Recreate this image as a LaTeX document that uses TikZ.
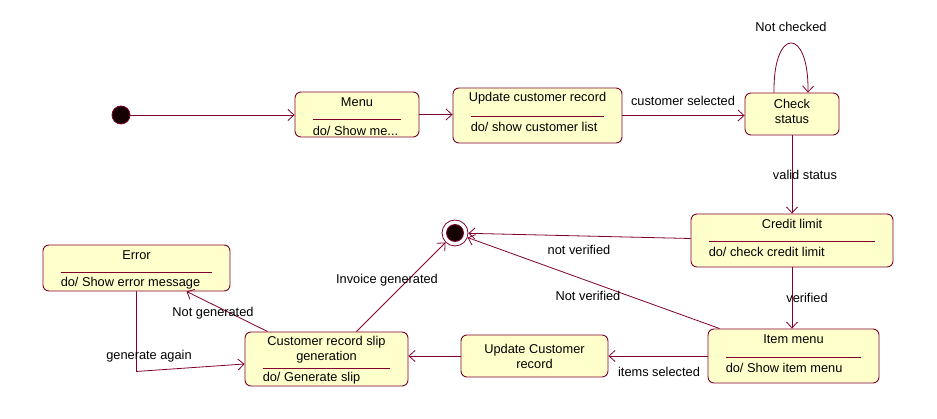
\documentclass[tikz,border=0pt]{standalone}
\usepackage{fontspec}
\setmainfont{Liberation Sans}
\usetikzlibrary{arrows.meta,calc}
\definecolor{ln}{RGB}{128,0,48}
\definecolor{fillc}{RGB}{255,255,204}
\definecolor{dot}{RGB}{20,0,0}
\begin{document}
\begin{tikzpicture}[x=1pt,y=-1pt,
  font=\fontsize{12.8}{15}\selectfont,
  stbox/.style={draw=ln, fill=fillc, rounded corners=6pt, line width=0.9pt, inner sep=0pt},
  tr/.style={draw=ln, line width=0.8pt, -{Straight Barb[length=6pt,width=11pt]}},
  sepline/.style={draw=ln, line width=0.8pt},
  lbl/.style={inner sep=0pt, text=black},
  dotnode/.style={circle, fill=dot, draw=ln, line width=0.8pt, inner sep=0pt},
]
\useasboundingbox (0,0) rectangle (937,419);
\fill[white] (0,0) rectangle (937,419);

% states
\node[stbox, minimum width=124pt, minimum height=45pt] (menu) at (357,114.5) {};
\node[stbox, minimum width=169pt, minimum height=55pt] (ucr) at (537.5,115.5) {};
\node[stbox, minimum width=94pt, minimum height=42pt] (chk) at (792,114) {};
\node[stbox, minimum width=202pt, minimum height=53pt] (cl) at (792,240.5) {};
\node[stbox, minimum width=171pt, minimum height=54pt] (im) at (793.5,356) {};
\node[stbox, minimum width=147pt, minimum height=42pt] (ucr2) at (534.5,356) {};
\node[stbox, minimum width=163pt, minimum height=54pt] (slip) at (326.5,359) {};
\node[stbox, minimum width=187pt, minimum height=46pt] (err) at (136.5,268) {};

\node[dotnode, minimum size=18pt] (init) at (121,115) {};
\node[circle, draw=ln, fill=white, line width=0.8pt, minimum size=26pt, inner sep=0pt] (fin) at (455,233) {};
\node[dotnode, minimum size=17pt] (finin) at (fin) {};

% separators
\draw[sepline] ($(menu.north west)+(18,28)$) -- ($(menu.north east)+(-18,28)$);
\draw[sepline] ($(ucr.north west)+(18,29)$) -- ($(ucr.north east)+(-18,29)$);
\draw[sepline] ($(cl.north west)+(18,28)$) -- ($(cl.north east)+(-18,28)$);
\draw[sepline] ($(im.north west)+(18,29)$) -- ($(im.north east)+(-18,29)$);
\draw[sepline] ($(slip.north west)+(18,37)$) -- ($(slip.north east)+(-18,37)$);
\draw[sepline] ($(err.north west)+(18,28)$) -- ($(err.north east)+(-18,28)$);

% state texts
\node[lbl] (menuT) at ($(menu.north)+(0,11)$) {Menu};
\node[lbl, anchor=west] (menuD) at ($(menu.north west)+(18,39)$) {do/ Show me...};
\node[lbl] (ucrT) at ($(ucr.north)+(0,11)$) {Update customer record};
\node[lbl, anchor=west] (ucrD) at ($(ucr.north west)+(18,39.5)$) {do/ show customer list};
\node[lbl, align=center] (chkT) at ($(chk.center)+(0,-3)$) {Check\\status};
\node[lbl] (clT) at ($(cl.north)+(0,10.5)$) {Credit limit};
\node[lbl, anchor=west] (clD) at ($(cl.north west)+(18,38.5)$) {do/ check credit limit};
\node[lbl] (imT) at ($(im.north)+(0,10.5)$) {Item menu};
\node[lbl, anchor=west] (imD) at ($(im.north west)+(18,39.5)$) {do/ Show item menu};
\node[lbl, align=center] (ucr2T) at (ucr2.center) {Update Customer\\record};
\node[lbl, align=center] (slipT) at ($(slip.north)+(0,18)$) {Customer record slip\\generation};
\node[lbl, anchor=west] (slipD) at ($(slip.north west)+(18,47)$) {do/ Generate slip};
\node[lbl] (errT) at ($(err.north)+(0,10.5)$) {Error};
\node[lbl, anchor=west] (errD) at ($(err.north west)+(18,39)$) {do/ Show error message};

% transitions
\draw[tr] (init.east) -- (init.east -| menu.west);
\draw[tr] (menu.east) -- (menu.east -| ucr.west);
\draw[tr] (ucr.east) -- (ucr.east -| chk.west);
\draw[tr] ($(chk.north)+(-18,0)$) .. controls ($(chk.north)+(-19,-66)$) and ($(chk.north)+(17,-66)$) .. ($(chk.north)+(16,0)$);
\draw[tr] (chk.south) -- (chk.south |- cl.north);
\draw[tr] ($(cl.west)+(0,-2)$) -- (fin);
\draw[tr] ($(im.north west)+(12,0)$) -- (fin);
\draw[tr] (cl.south) -- (cl.south |- im.north);
\draw[tr] (im.west) -- (ucr2.east);
\draw[tr] (ucr2.west) -- (ucr2.west -| slip.east);
\draw[tr] ($(slip.north west)+(23,0)$) -- ($(err.south)+(50,0)$);
\draw[tr] ($(slip.north)+(30,0)$) -- (fin);
\draw[tr] (err.south) -- ($(err.south)+(0,80)$) -- ($(slip.west)+(0,5)$);

% transition labels
\node[lbl] (l1) at (683,101) {customer selected};
\node[lbl] (l2) at (791,27) {Not checked};
\node[lbl] (l3) at (805,175) {valid status};
\node[lbl] (l4) at (579,250) {not verified};
\node[lbl] (l5) at (588,296) {Not verified};
\node[lbl] (l6) at (807,298) {verified};
\node[lbl] (l7) at (659,372) {items selected};
\node[lbl] (l8) at (213,313) {Not generated};
\node[lbl] (l9) at (387,280) {Invoice generated};
\node[lbl] (l10) at (149,356) {generate again};
\end{tikzpicture}
\end{document}
